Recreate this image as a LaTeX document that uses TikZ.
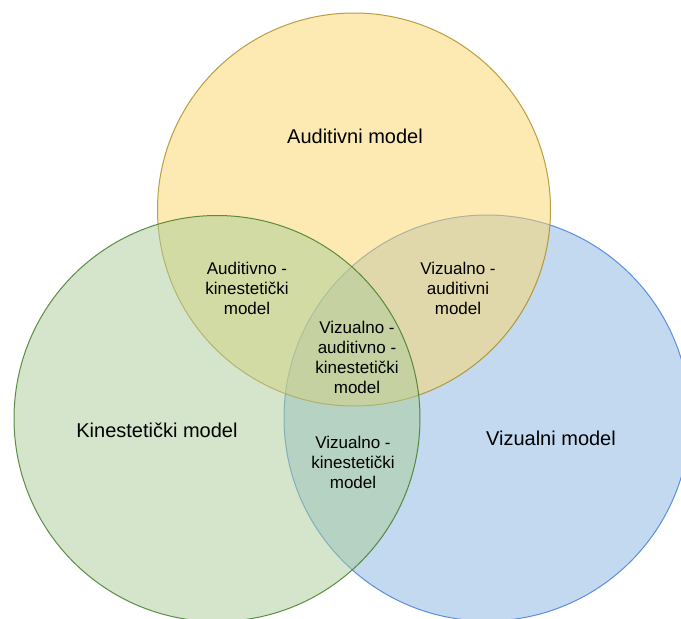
\documentclass[tikz,border=0pt]{standalone}
\usepackage{fontspec}
\setmainfont{Liberation Sans}
\usepackage{xcolor}
\usepackage{tikz}

\definecolor{yelfill}{HTML}{FDD767}
\definecolor{yelline}{HTML}{A8891F}
\definecolor{grnfill}{HTML}{ABCD99}
\definecolor{grnline}{HTML}{38761D}
\definecolor{blufill}{HTML}{89B5E1}
\definecolor{bluline}{HTML}{3C78D8}

\begin{document}
\begin{tikzpicture}[x=1pt,y=-1pt,
	set/.style={fill opacity=0.5,draw opacity=0.8,line width=1pt},
	big/.style={font=\fontsize{20}{24}\selectfont},
	small/.style={align=center,font=\fontsize{17}{20}\selectfont}]
	\useasboundingbox (0,0) rectangle (681,619);
	\clip (0,0) rectangle (681,619);
	\fill[white] (0,0) rectangle (681,619);
	
	% the three sets: blue below, green on top
	\filldraw[set,fill=blufill,draw=bluline] (487,418) circle (203);
	\filldraw[set,fill=yelfill,draw=yelline] (354,209.5) circle (196.5);
	\filldraw[set,fill=grnfill,draw=grnline] (217,418.5) circle (203);
	
	\node[big] (aud) at (355,136) {Auditivni model};
	\node[big] (kin) at (157,430) {Kinestetički model};
	\node[big] (viz) at (551,438) {Vizualni model};
	
	\node[small] (audkin) at (247,288) {Auditivno -\\kinestetički\\model};
	\node[small] (vizaud) at (458,288) {Vizualno -\\auditivni\\model};
	\node[small] (vizkin) at (353,462) {Vizualno -\\kinestetički\\model};
	\node[small] (sve) at (357,357) {Vizualno -\\auditivno -\\kinestetički\\model};
	
\end{tikzpicture}
\end{document}
